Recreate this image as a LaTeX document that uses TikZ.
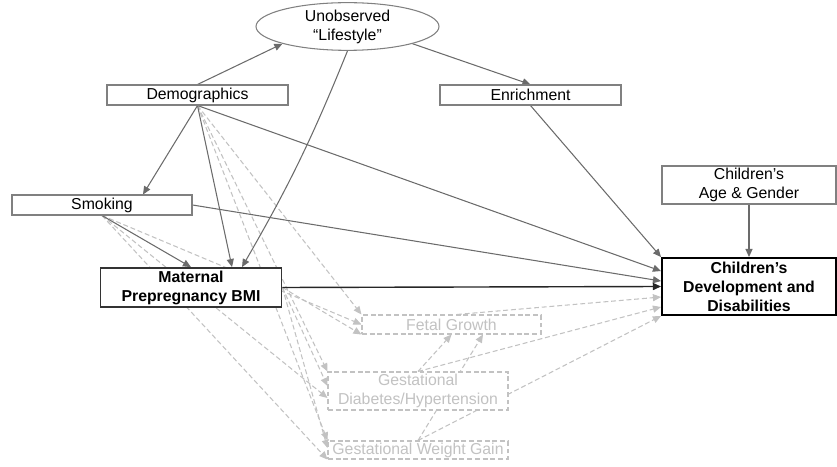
\documentclass[tikz,border=0pt]{standalone}
\usepackage{fontspec}
\setmainfont{Liberation Sans}
\usepackage{xcolor}
\usepackage{tikz}
\usetikzlibrary{arrows.meta,shapes.geometric,backgrounds}

\definecolor{lineGray}{gray}{0.42}
\definecolor{boxGray}{gray}{0.5}
\definecolor{lightGray}{gray}{0.76}

\begin{document}
\begin{tikzpicture}[font=\fontsize{9}{10.8}\selectfont,
  box/.style={draw=boxGray,line width=0.6pt,fill=white,inner sep=0pt,align=center,minimum height=0.4cm},
  mainbox/.style={draw=black!80,line width=1pt,fill=white,inner sep=0pt,align=center,font=\fontsize{9}{10.8}\selectfont\bfseries},
  medbox/.style={draw=lightGray,dash pattern=on 2.8pt off 1.6pt,line width=0.6pt,fill=white,text=lightGray,inner sep=0pt,align=center},
  arr/.style={color=lineGray,line width=0.6pt,-{Triangle[length=4.6pt,width=4pt]}},
  darr/.style={color=lightGray,line width=0.6pt,dash pattern=on 2.8pt off 1.6pt,-{Triangle[length=4.6pt,width=4pt]}}]

\useasboundingbox (0,0) rectangle (16.74,9.32);

\node[draw=boxGray,ellipse,line width=0.6pt,fill=white,minimum width=3.66cm,minimum height=0.78cm,inner sep=0pt,align=center] (life) at (6.95,8.79) {Unobserved\\“Lifestyle”};
\node[box,minimum width=3.62cm] (demo) at (3.95,7.42) {Demographics};
\node[box,minimum width=3.62cm] (enr) at (10.61,7.42) {Enrichment};
\node[box,minimum width=3.6cm] (smok) at (2.04,5.22) {Smoking};
\node[box,minimum width=3.48cm,minimum height=0.76cm] (agegen) at (14.98,5.62) {Children’s\\Age \& Gender};
\node[mainbox,minimum width=3.62cm,minimum height=0.78cm] (mbmi) at (3.82,3.57) {Maternal\\Prepregnancy BMI};
\node[mainbox,draw=black,line width=1.1pt,minimum width=3.48cm,minimum height=1.14cm] (cdd) at (14.98,3.59) {Children’s\\Development and\\Disabilities};
\node[medbox,minimum width=3.58cm,minimum height=0.38cm] (fg) at (9.03,2.83) {Fetal Growth};
\node[medbox,minimum width=3.6cm,minimum height=0.76cm] (gdh) at (8.36,1.5) {Gestational\\Diabetes/Hypertension};
\node[medbox,minimum width=3.6cm,minimum height=0.36cm] (wg) at (8.36,0.32) {Gestational Weight Gain};

\begin{pgfonlayer}{background}
\draw[darr] (demo.south) -- (fg.north west);
\draw[darr] (demo.south) -- (gdh.north west);
\draw[darr] (demo.south) -- (wg.north west);
\draw[darr] (smok.south) -- (fg.west);
\draw[darr] (smok.south) -- ([yshift=-0.14cm]gdh.west);
\draw[darr] (smok.south) -- (wg.south west);
\draw[darr] (mbmi.east) -- (fg.south west);
\draw[darr] (mbmi.east) -- ([yshift=0.1cm]gdh.west);
\draw[darr] (mbmi.east) -- ([yshift=0.04cm]wg.west);
\draw[darr] (gdh.north) -- (fg.south);
\draw[darr] (wg.north) -- ([xshift=0.63cm]fg.south);
\draw[darr] ([xshift=0.11cm]fg.north) -- ([yshift=-0.21cm]cdd.west);
\draw[darr] (gdh.north) -- ([yshift=-0.41cm]cdd.west);
\draw[darr] (wg.north) -- (cdd.south west);

\draw[arr] (demo.north) -- (life.south west);
\draw[arr] (life.south east) -- (enr.north);
\draw[arr] (demo.south) -- ([xshift=0.82cm]smok.north);
\draw[arr] (demo.south) -- ([xshift=0.82cm]mbmi.north);
\draw[arr] (life.south) to[bend left=4] ([xshift=1.02cm]mbmi.north);
\draw[arr] (smok.south) -- (mbmi.north);
\draw[arr] (demo.south) -- ([yshift=-0.28cm]cdd.north west);
\draw[arr] (enr.south) -- (cdd.north west);
\draw[arr] (smok.east) -- ([yshift=-0.48cm]cdd.north west);
\draw[arr] (agegen.south) -- (cdd.north);
\draw[arr,color=black!85,line width=0.8pt] (mbmi.east) -- (cdd.west);
\end{pgfonlayer}

\end{tikzpicture}
\end{document}
